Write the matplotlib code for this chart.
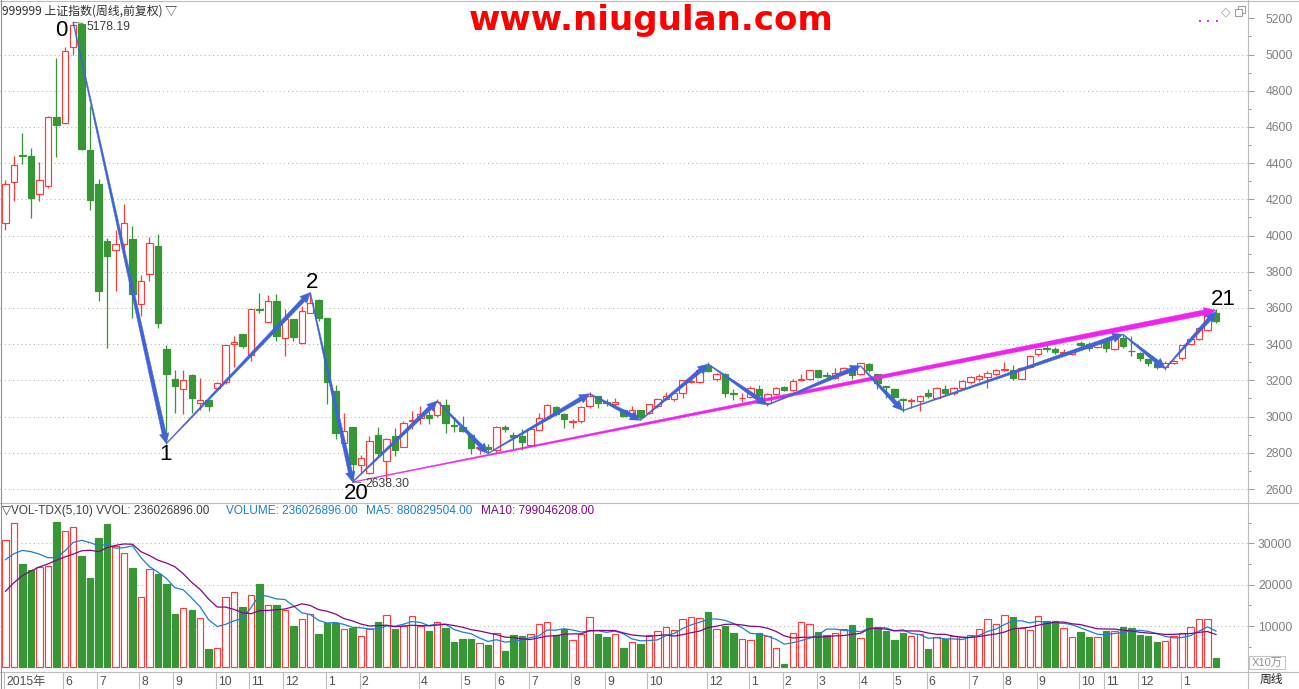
import matplotlib
matplotlib.use("Agg")
import matplotlib.pyplot as plt
import numpy as np
import pandas as pd
from matplotlib.patches import Polygon, Rectangle
from matplotlib.lines import Line2D
from matplotlib.ticker import MultipleLocator

W, H, DPI = 1299, 689, 100

# ---------------- data (weekly bars, 上证指数) ----------------
open_ = [4070, 4296, 4446, 4442, 4230, 4274, 4657, 4624, 5042, 5169,
         4470, 4287, 3972, 3920, 3951, 3983, 3620, 3789, 3945, 3376,
         3209, 3152, 3229, 3076, 3089, 3159, 3192, 3402, 3454, 3340,
         3592, 3524, 3638, 3435, 3537, 3408, 3573, 3642, 3542, 3139,
         2852, 2942, 2732, 2689, 2896, 2754, 2892, 2833, 2975, 2994,
         3008, 3008, 3063, 2956, 2944, 2901, 2824, 2830, 2815, 2944,
         2901, 2892, 2842, 2925, 2993, 3052, 3012, 2970, 2975, 3058,
         3113, 3080, 3067, 3039, 3017, 3034, 3021, 3058, 3095, 3095,
         3128, 3193, 3192, 3279, 3209, 3236, 3130, 3100, 3109, 3154,
         3076, 3126, 3165, 3146, 3202, 3205, 3255, 3228, 3214, 3242,
         3255, 3236, 3288, 3233, 3168, 3150, 3098, 3088, 3085, 3131,
         3104, 3154, 3128, 3159, 3190, 3205, 3220, 3233, 3258, 3260,
         3209, 3275, 3343, 3378, 3371, 3350, 3347, 3408, 3399, 3386,
         3417, 3375, 3435, 3364, 3349, 3316, 3294, 3275, 3297, 3321,
         3399, 3430, 3481, 3570]
high = [4309, 4438, 4569, 4486, 4407, 4658, 4983, 5044, 5178.19, 5176,
        4718, 4313, 3985, 4028, 4177, 4050, 3780, 3991, 4006, 3393,
        3260, 3255, 3233, 3211, 3094, 3192, 3397, 3445, 3458, 3596,
        3680, 3673, 3675, 3592, 3540, 3610, 3684.57, 3651, 3545, 3174,
        3021, 2945, 2790, 2892, 2944, 2880, 2938, 2975, 3030, 3060,
        3030, 3095, 3095, 3000, 3003, 2905, 2837, 2846, 2946, 2951,
        2916, 2929, 2935, 3021, 3069, 3058, 3021, 2984, 3058, 3135,
        3115, 3095, 3102, 3043, 3058, 3038, 3070, 3100, 3135, 3135,
        3201, 3214, 3260, 3303, 3240, 3240, 3150, 3128, 3168, 3176,
        3130, 3162, 3168, 3205, 3238, 3260, 3258, 3248, 3270, 3275,
        3270, 3295, 3294, 3236, 3170, 3159, 3100, 3100, 3122, 3150,
        3165, 3172, 3165, 3200, 3225, 3235, 3250, 3265, 3301, 3284,
        3275, 3340, 3375, 3393, 3385, 3375, 3365, 3420, 3410, 3420,
        3426, 3445, 3454, 3445, 3355, 3320, 3300, 3305, 3312, 3397,
        3435, 3495, 3560, 3592]
low = [4028, 4190, 4396, 4099, 4190, 4262, 4433, 4615, 4998, 4470,
       4140, 3638, 3380, 3693, 3925, 3546, 3555, 3748, 3490, 2851,
       3021, 3017, 3021, 3034, 3030, 3150, 3180, 3273, 3381, 3306,
       3573, 3520, 3417, 3334, 3420, 3400, 3570, 3530, 3070, 2874,
       2844, 2638.30, 2690, 2682, 2780, 2653, 2785, 2830, 2930, 2960,
       2960, 3000, 2911, 2915, 2915, 2791, 2791, 2800, 2800, 2914,
       2822, 2815, 2840, 2920, 2990, 3005, 2938, 2938, 2966, 3050,
       3049, 3058, 3060, 2995, 3000, 2985, 3015, 3050, 3090, 3085,
       3104, 3183, 3188, 3245, 3196, 3109, 3091, 3080, 3105, 3110,
       3058, 3120, 3141, 3140, 3196, 3200, 3215, 3205, 3205, 3238,
       3205, 3230, 3245, 3154, 3104, 3100, 3026, 3050, 3030, 3100,
       3100, 3120, 3120, 3150, 3180, 3195, 3160, 3228, 3250, 3200,
       3205, 3270, 3335, 3355, 3345, 3345, 3340, 3385, 3365, 3378,
       3356, 3370, 3380, 3334, 3305, 3280, 3262, 3260, 3290, 3315,
       3395, 3425, 3475, 3518]
close = [4287, 4390, 4440, 4206, 4308, 4656, 4610, 5020, 5164, 4477,
         4195, 3693, 3887, 3954, 4072, 3675, 3748, 3960, 3518, 3238,
         3168, 3203, 3102, 3093, 3058, 3187, 3397, 3411, 3389, 3592,
         3586, 3636, 3445, 3537, 3439, 3583, 3629, 3546, 3190, 2911,
         2923, 2738, 2769, 2864, 2800, 2877, 2813, 2962, 2982, 3017,
         2993, 3082, 2966, 2948, 2920, 2828, 2831, 2822, 2944, 2929,
         2888, 2859, 2933, 2993, 3063, 3012, 2984, 2976, 3052, 3113,
         3076, 3075, 3082, 3006, 3036, 3000, 3067, 3095, 3113, 3128,
         3201, 3196, 3257, 3251, 3238, 3132, 3126, 3104, 3159, 3117,
         3126, 3159, 3146, 3196, 3205, 3257, 3220, 3224, 3242, 3270,
         3227, 3294, 3255, 3183, 3165, 3109, 3094, 3091, 3116, 3113,
         3159, 3128, 3159, 3196, 3220, 3224, 3242, 3260, 3261, 3214,
         3270, 3334, 3371, 3374, 3356, 3358, 3356, 3393, 3380, 3411,
         3380, 3435, 3389, 3360, 3321, 3297, 3275, 3297, 3306, 3395,
         3430, 3491, 3559, 3527]
# volume in units of 10万 shares
volume = [30887, 34919, 25081, 23629, 24355, 24597, 35081, 33065, 33952, 27016,
          21694, 31371, 34758, 29274, 27661, 23952, 17097, 23871, 22661, 20081,
          12823, 14355, 13952, 11935, 4516, 4677, 17016, 18226, 14677, 17581,
          20242, 15161, 15161, 13952, 10081, 11694, 12984, 8145, 10726, 10806,
          9274, 9516, 7581, 9274, 11048, 12742, 9194, 9919, 12500, 10081,
          8871, 11048, 9597, 6210, 6935, 6935, 5887, 5403, 8306, 4032,
          7903, 7661, 8065, 10484, 11048, 7823, 9274, 6613, 8065, 12177,
          8145, 7419, 8065, 4758, 6129, 5726, 7823, 8790, 9758, 9032,
          11694, 12177, 11935, 13468, 9274, 10081, 8387, 6855, 6613, 8387,
          7581, 4677, 887, 8306, 10968, 10484, 8629, 7903, 8387, 9274,
          10323, 7097, 12016, 9516, 8871, 6694, 8387, 7581, 8065, 4516,
          7339, 6935, 7581, 7258, 7742, 9274, 11613, 10484, 12661, 12177,
          9435, 9032, 12419, 11210, 11210, 9435, 7339, 8629, 7339, 7339,
          8871, 8871, 9758, 9516, 7823, 7581, 6210, 6452, 7581, 8387,
          9758, 11694, 11694, 2360]
# moving-average values at the first bars (earlier weeks are off-screen)
ma5_head = [26050, 27500, 28300, 28000, 27400]
ma10_head = [18400, 20500, 22200, 23300, 24300, 25000, 25900, 26700, 27400, 28200]

vol_title = "▽VOL-TDX(5,10) VVOL: 236026896.00"
vol_volume = "VOLUME: 236026896.00"
vol_ma5 = "MA5: 880829504.00"
vol_ma10 = "MA10: 799046208.00"

# wave turning points (bar index, price) for the drawn arrows
wave_idx = [8, 19, 36, 41, 51, 57, 69, 75, 83, 90, 101, 106, 132, 137, 143]
wave_px = [5178.19, 2851, 3684.57, 2638.30, 3086, 2796, 3126, 2980, 3290,
           3064, 3280, 3033, 3454, 3266, 3580]
trend_idx = [41, 143]
trend_px = [2638.30, 3588]
wave_labels = {0: "0", 1: "1", 2: "2", 3: "20"}

month_idx = [0, 7, 11, 16, 20, 25, 29, 33, 38, 42, 49, 54, 58, 62, 67, 71, 76,
             83, 88, 92, 96, 101, 105, 109, 114, 118, 122, 127, 130, 134, 139]
month_lab = ["2015年", "6", "7", "8", "9", "10", "11", "12", "1", "2", "4", "5",
             "6", "7", "8", "9", "10", "12", "1", "2", "3", "4", "5", "6", "7",
             "8", "9", "10", "11", "12", "1"]
price_ticks = list(range(2600, 5201, 200))
price_grid = list(range(2600, 5001, 200))
vol_ticks = [10000, 20000, 30000]

# ---------------- style ----------------
plt.rcParams['font.family'] = ['Liberation Sans', 'Noto Sans CJK SC', 'DejaVu Sans']
RED = '#ff3b3b'
GREEN = '#379737'
BLUE = '#4063d8'
MAG = '#f022f0'
GRID = '#b4b4b4'
BORDER = '#bdbdbd'

fig = plt.figure(figsize=(W / DPI, H / DPI), dpi=DPI)
fig.patch.set_facecolor('white')


def prect(x0, y0, x1, y1):
    return [x0 / W, 1 - y1 / H, (x1 - x0) / W, (y1 - y0) / H]


XR = 1247.7
ax = fig.add_axes(prect(0, 1, XR, 503))
axv = fig.add_axes(prect(0, 503, XR, 671.7))
axb = fig.add_axes(prect(0, 671.7, XR, 689))

x0lim = (0 - 5.5) / 8.465
x1lim = (XR - 5.5) / 8.465
for a in (ax, axv, axb):
    a.set_xlim(x0lim, x1lim)
    for s in a.spines.values():
        s.set_visible(False)
    a.set_xticks([])
    a.patch.set_alpha(0)

ax.set_ylim(5200 - (503 - 18.3) / 0.18104, 5200 + (18.3 - 1) / 0.18104)
axv.set_ylim(-(671.7 - 667.4) / 4.135 * 1000, (667.4 - 503) / 4.135 * 1000)
axb.set_ylim(0, 1)
axb.set_yticks([])

n = len(close)
xs = np.arange(n)
up = [close[i] >= open_[i] for i in range(n)]
BW = 0.76

# grids
for v in price_grid:
    ax.axhline(v, color=GRID, lw=0.75, ls=(0, (1, 3)), zorder=0)
for v in vol_ticks:
    axv.axhline(v, color=GRID, lw=0.75, ls=(0, (1, 3)), zorder=0)

# candles
for i in range(n):
    c = RED if up[i] else GREEN
    ax.vlines(i, low[i], high[i], color=c, lw=0.9, zorder=2)
    b0 = min(open_[i], close[i])
    h = max(abs(close[i] - open_[i]), 0.8)
    ax.add_patch(Rectangle((i - BW / 2, b0), BW, h,
                           facecolor='white' if up[i] else GREEN,
                           edgecolor=c, lw=0.85, zorder=3))

# volume bars
for i in range(n):
    c = RED if up[i] else GREEN
    axv.bar(i, volume[i], width=BW, bottom=0,
            color='white' if up[i] else GREEN, edgecolor=c, lw=0.85, zorder=2)
vs = pd.Series(volume, dtype=float)
ma5 = vs.rolling(5).mean()
ma10 = vs.rolling(10).mean()
ma5.iloc[:len(ma5_head)] = ma5_head
ma10.iloc[:len(ma10_head)] = ma10_head
axv.plot(xs, ma5, color='#1a80d8', lw=0.9, zorder=4)
axv.plot(xs, ma10, color='#860686', lw=0.9, zorder=4)


# tapered arrows
def tapered_arrow(a, p0, p1, color, w0, w1, hw, hl, z):
    t = a.transData
    A = t.transform(p0)
    B = t.transform(p1)
    d = B - A
    L = np.hypot(d[0], d[1])
    u = d / L
    nn = np.array([-u[1], u[0]])
    base = B - u * hl
    pts = [A + nn * w0, base + nn * w1, base + nn * hw, B,
           base - nn * hw, base - nn * w1, A - nn * w0]
    pdat = t.inverted().transform(np.array(pts))
    a.add_patch(Polygon(pdat, closed=True, facecolor=color, edgecolor=color,
                        lw=0.3, zorder=z))


tapered_arrow(ax, (trend_idx[0], trend_px[0]), (trend_idx[1], trend_px[1]),
              MAG, 0.35, 2.6, 5.0, 12, 5)
for k in range(len(wave_idx) - 1):
    tapered_arrow(ax, (wave_idx[k], wave_px[k]), (wave_idx[k + 1], wave_px[k + 1]),
                  BLUE, 0.4, 2.1, 4.8, 10, 6)

# wave labels
lab_off = {"0": (-11.5, -8.5), "1": (-1, -10.5), "2": (1.5, 10), "20": (4, -11)}
for k, t in wave_labels.items():
    ax.annotate(t, xy=(wave_idx[k], wave_px[k]), xytext=lab_off[t],
                textcoords='offset pixels', ha='center', va='center',
                fontsize=16, color='black', zorder=8)
ax.annotate("21", xy=(trend_idx[1], trend_px[1]), xytext=(7, 11),
            textcoords='offset pixels', ha='center', va='center',
            fontsize=16, color='black', zorder=8)

# extreme value markers
ax.annotate(f"{high[8]:.2f}", xy=(8, high[8]), xytext=(13.5, -4.5),
            textcoords='offset pixels', ha='left', va='center', fontsize=8.8,
            color='#404040', zorder=8,
            arrowprops=dict(arrowstyle='-', color='#707070', lw=0.7,
                            shrinkA=1, shrinkB=0))
ax.annotate(f"{low[41]:.2f}", xy=(41, low[41]), xytext=(12.5, -2),
            textcoords='offset pixels', ha='left', va='center', fontsize=8.8,
            color='#404040', zorder=8,
            arrowprops=dict(arrowstyle='-', color='#707070', lw=0.7,
                            shrinkA=1, shrinkB=0))

# right axes
for a, ticks in ((ax, price_ticks), (axv, vol_ticks)):
    a.yaxis.tick_right()
    a.set_yticks(ticks)
    a.tick_params(axis='y', which='major', length=4.3, width=0.7,
                  color='#9a9a9a', labelsize=8.8, labelcolor='#808080')
    a.tick_params(axis='y', which='minor', length=2.2, width=0.7, color='#9a9a9a')
ax.tick_params(axis='y', which='major', pad=8.6)
axv.tick_params(axis='y', which='major', pad=3.1)
ax.set_yticks([v for v in range(2600, 5300, 100) if v not in price_ticks], minor=True)
axv.set_yticks([5000, 15000, 25000, 35000], minor=True)

# bottom strip month labels
sep = np.array(month_idx) - 0.18
axb.vlines(sep, 0, 1, color=BORDER, lw=0.8)
for xi, t in zip(sep, month_lab):
    axb.text(xi + 0.25, 0.42, t, ha='left', va='center', fontsize=8.8,
             color='#505050')


# frame lines (figure pixels)
def fline(xa, ya, xb, yb, color=BORDER, lw=0.8):
    fig.add_artist(Line2D([xa / W, xb / W], [1 - ya / H, 1 - yb / H],
                          transform=fig.transFigure, color=color, lw=lw))


fline(0, 1, W, 1)
fline(0, 503, W, 503)
fline(0, 671.7, W, 671.7)
fline(XR, 0, XR, H)
fline(0.5, 0, 0.5, H, color='#909090')

# texts
fig.text(2 / W, 1 - 11.5 / H, "999999 上证指数(周线,前复权) ▽", fontsize=8.6,
         family=['Noto Sans CJK SC', 'DejaVu Sans'], color='#303030', va='center')
fig.text(651.5 / W, 1 - 30 / H, "www.niugulan.com", fontsize=24.5,
         fontweight='bold', family='DejaVu Sans', color='#ff0000',
         ha='center', va='baseline')
vy = 1 - 511 / H
fig.text(2 / W, vy, vol_title, fontsize=8.5, color='#404040', va='center',
         family=['Liberation Sans', 'DejaVu Sans'])
fig.text(226 / W, vy, vol_volume, fontsize=8.5, color='#1a80d8', va='center')
fig.text(366 / W, vy, vol_ma5, fontsize=8.5, color='#1a80d8', va='center')
fig.text(481 / W, vy, vol_ma10, fontsize=8.5, color='#860686', va='center')

# X10万 box and 周线
fig.add_artist(Rectangle((1249 / W, 1 - 669 / H), 36 / W, 13 / H,
                         transform=fig.transFigure, fill=False,
                         edgecolor='#c4c4c4', lw=0.8))
fig.text(1267 / W, 1 - 662.5 / H, "X10万", fontsize=8, color='#909090',
         ha='center', va='center')
fig.text(1271 / W, 1 - 679.5 / H, "周线", fontsize=8.5, color='#202020',
         ha='center', va='center', family=['Noto Sans CJK SC', 'DejaVu Sans'])

# top-right icons
fig.text(1225.5 / W, 1 - 12 / H, "◇", fontsize=9, color='#a0a0a0',
         ha='center', va='center', family='DejaVu Sans')
fig.add_artist(Rectangle((1238 / W, 1 - 13 / H), 7 / W, 7 / H,
                         transform=fig.transFigure, fill=False,
                         edgecolor='#a0a0a0', lw=0.8))
fig.add_artist(Rectangle((1235 / W, 1 - 16 / H), 7 / W, 7 / H,
                         transform=fig.transFigure, facecolor='white',
                         edgecolor='#a0a0a0', lw=0.8))
for dx in (1200, 1208.3, 1216.7):
    fig.add_artist(Rectangle(((dx - 1) / W, 1 - 22 / H), 2 / W, 2 / H,
                             transform=fig.transFigure, facecolor=MAG,
                             edgecolor='none'))

fig.savefig("out.png", dpi=DPI, facecolor='white')
